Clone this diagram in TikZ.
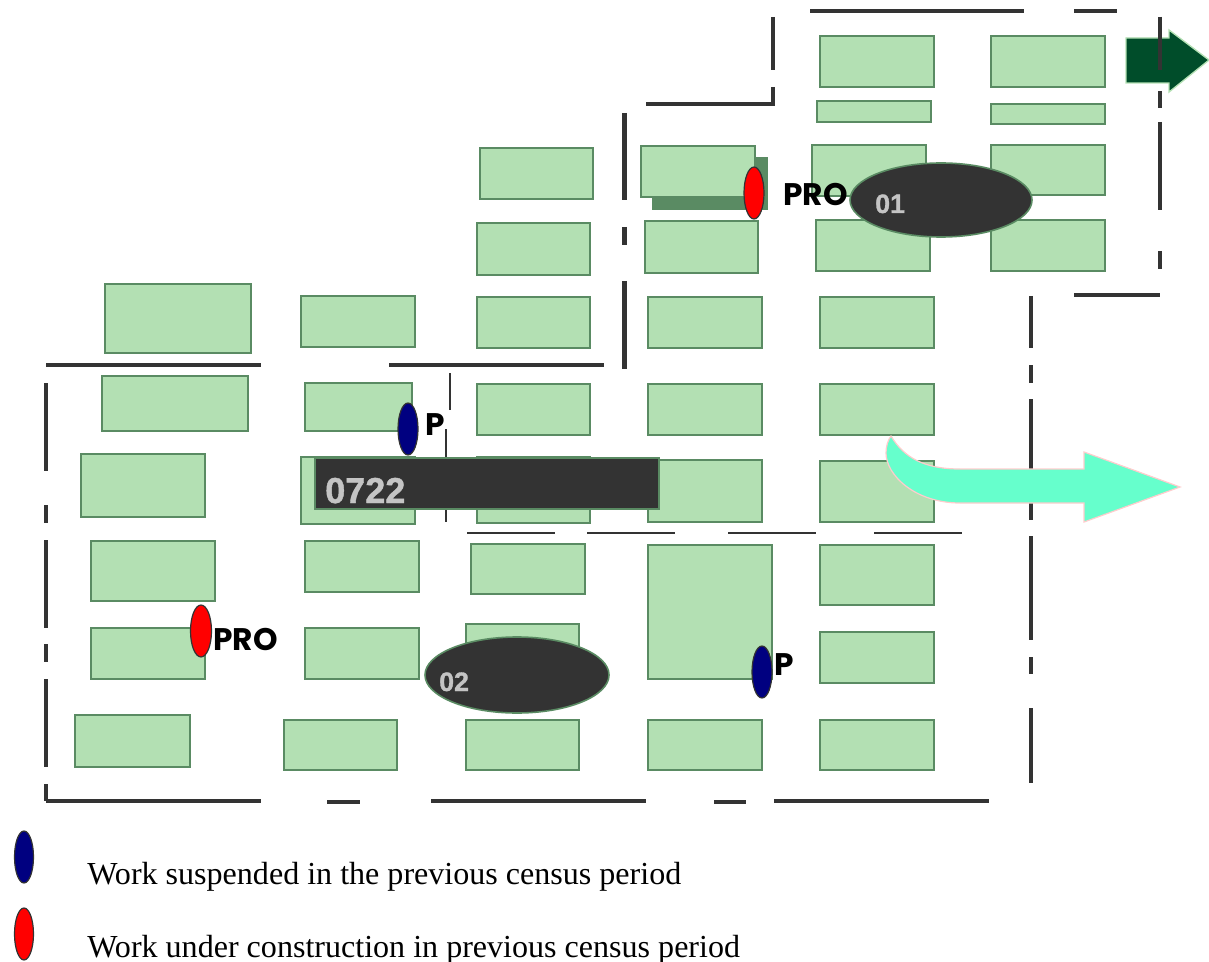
\documentclass[tikz,border=0pt]{standalone}
\usepackage{fontspec}
\usepackage{tikz}
\setmainfont{Liberation Serif}
\newfontfamily\boldsans[BoldFont={Liberation Sans Bold}, BoldFeatures={FakeBold=1.2}]{Liberation Sans}
\newfontfamily\pinfont{Poppins}

\begin{document}
\begin{tikzpicture}[x=0.75pt, y=-0.75pt,
        block/.style={draw=edgegreen, fill=blockgreen, line width=1.4pt},
        wall/.style={draw=walldark, line width=3.3pt},
        thinwall/.style={draw=walldark, line width=1pt},
        zone/.style={draw=edgegreen, fill=walldark, line width=1.2pt},
        zonetext/.style={anchor=base west, inner sep=0pt, text=textgrey, font=\boldsans\bfseries\fontsize{20}{24}\selectfont},
        pintext/.style={anchor=base west, inner sep=0pt, font=\pinfont\bfseries\fontsize{23.4}{26}\selectfont},
        legendtext/.style={anchor=base west, inner sep=0pt, font=\fontsize{24.05}{28}\selectfont},
        pin/.style={draw=walldark, line width=0.9pt}]
        \definecolor{blockgreen}{HTML}{B3E0B3}
        \definecolor{edgegreen}{HTML}{5A8B63}
        \definecolor{walldark}{HTML}{333333}
        \definecolor{textgrey}{HTML}{C4C4C4}
        \definecolor{pinblue}{HTML}{000080}
        \definecolor{arrowdark}{HTML}{004D2A}
        \definecolor{arrowcyan}{HTML}{66FFCC}
        \definecolor{arrowpink}{HTML}{FFCCCC}
        \useasboundingbox (0,0) rectangle (1209,962);

        % Draw the shadow of the block behind the first pin
        \fill[edgegreen] (652,157) rectangle (768,210);

        % Draw the blocks
        \foreach \xa/\ya/\xb/\yb in {
            820/36/934/87, 991/36/1105/87, 817/101/931/122, 991/104/1105/124,
            812/145/926/196, 991/145/1105/195, 641/146/755/197, 480/148/593/199,
            477/223/590/275, 645/221/758/273, 816/220/930/271, 991/220/1105/271,
            105/284/251/353, 301/296/415/347, 477/297/590/348, 648/297/762/348, 820/297/934/348,
            102/376/248/431, 305/383/412/431, 477/384/590/435, 648/384/762/435, 820/384/934/435,
            81/454/205/517, 301/457/415/524, 477/457/590/523, 648/460/762/522, 820/461/934/522,
            91/541/215/601, 305/541/419/592, 471/544/585/594, 648/545/772/679, 820/545/934/605,
            91/628/205/679, 305/628/419/679, 466/624/579/675, 820/632/934/683,
            75/715/190/767, 284/720/397/770, 466/720/579/770, 648/720/762/770, 820/720/934/770}
            \draw[block] (\xa,\ya) rectangle (\xb,\yb);

        % Draw the walls, horizontal ones first
        \foreach \xa/\xb/\yy in {
            810/1024/11, 1074/1117/11, 646/775/104, 1074/1160/295,
            46/261/365, 389/604/365,
            46/261/801, 327/360/802, 431/646/801, 714/746/802, 774/989/801}
            \draw[wall] (\xa,\yy) -- (\xb,\yy);
        \foreach \xx/\ya/\yb in {
            773/17/70, 773/87/105, 1160/17/70, 1160/91/108, 1160/122/210, 1160/251/269,
            624.5/113/200, 624.5/227/245, 624.5/281/369,
            46/383/471, 46/505/523, 46/540/628, 46/644/662, 46/679/767, 46/784/801,
            1031/296/348, 1031/365/383, 1031/399/520, 1031/536/640, 1031/657/674, 1031/708/783}
            \draw[wall] (\xx,\ya) -- (\xx,\yb);

        % Draw the thin lines around the long block
        \draw[thinwall] (450,373) -- (450,410);
        \draw[thinwall] (446,429) -- (446,522);
        \foreach \xa/\xb in {467/555, 587/675, 728/816, 874/962}
            \draw[thinwall] (\xa,533) -- (\xb,533);

        % Draw the dark zones
        \draw[zone] (941,200) ellipse (91 and 37);
        \draw[zone] (517,675) ellipse (92 and 38);
        \draw[zone] (315,458) rectangle (659,509);
        \node[zonetext] (zoneA) at (875,213) {01};
        \node[zonetext] (zoneB) at (439,691) {02};
        \node[zonetext, font=\boldsans\bfseries\fontsize{27}{30}\selectfont] (zoneC) at (325,503) {0722};

        % Draw the arrows
        \draw[fill=arrowdark, draw=blockgreen, line width=1pt] (1126,38) -- (1169,38) -- (1169,30)
            -- (1209,60) -- (1169,92) -- (1169,83) -- (1126,83) -- cycle;
        \draw[wall] (1160,17) -- (1160,70);
        \draw[fill=arrowcyan, draw=arrowpink, line width=0.9pt] (891,436)
            .. controls (904,458) and (925,469) .. (960,469) -- (1084,469) -- (1084,452)
            -- (1180,487) -- (1084,522) -- (1084,503) -- (960,503)
            .. controls (915,503) and (886,475) .. (886,453)
            .. controls (886,446) and (888,440) .. (891,436) -- cycle;

        % Draw the pins on the plan
        \draw[pin, fill=red] (754,193) ellipse (10 and 26);
        \draw[pin, fill=red] (201,631) ellipse (10.5 and 26);
        \draw[pin, fill=pinblue] (408,429) ellipse (10 and 26);
        \draw[pin, fill=pinblue] (762,672) ellipse (10 and 26);
        \node[pintext] (proA) at (783,206) {PRO};
        \node[pintext] (proB) at (213,650) {PRO};
        \node[pintext] (pA) at (425,435) {P};
        \node[pintext] (pB) at (774,675) {P};

        % Draw the legend
        \draw[pin, fill=pinblue] (24,857) ellipse (9.5 and 26);
        \draw[pin, fill=red] (24,934) ellipse (9.5 and 26);
        \node[legendtext] (legendA) at (87,884) {Work suspended in the previous census period};
        \node[legendtext] (legendB) at (87,957) {Work under construction in previous census period};
\end{tikzpicture}
\end{document}
